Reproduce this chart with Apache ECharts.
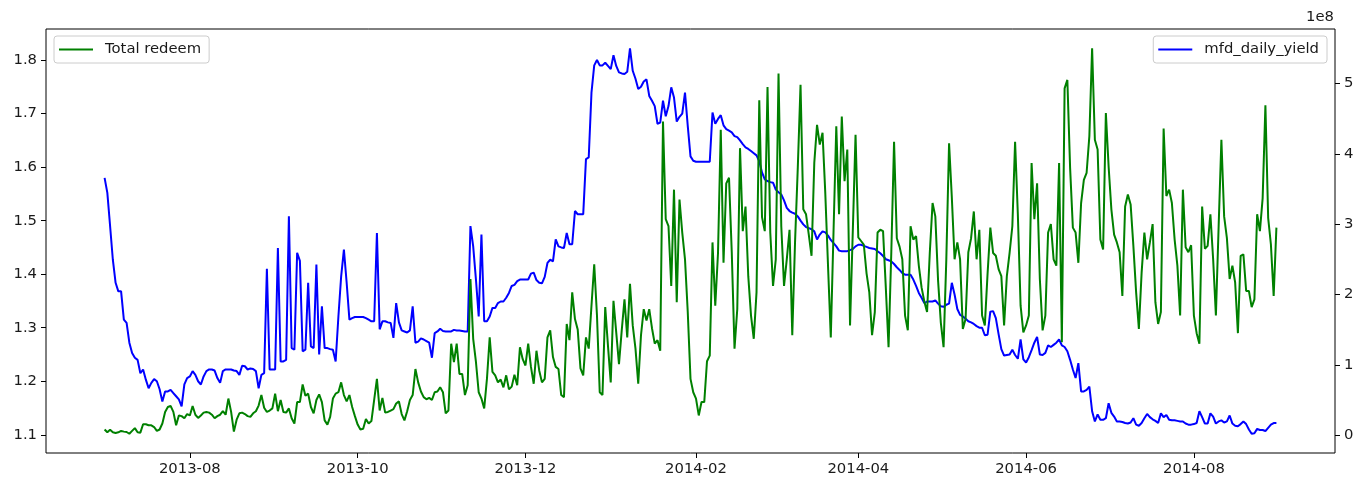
<!DOCTYPE html>
<html>
<head>
<meta charset="utf-8">
<script src="https://cdn.jsdelivr.net/npm/echarts@6/dist/echarts.min.js"></script>
<style>
html,body{margin:0;padding:0;background:#ffffff;}
#chart{width:1365px;height:490px;}
</style>
</head>
<body>
<div id="chart"></div>
<script>
// ---------------- data (daily, starting at startDate) ----------------
const startDate = '2013-07-01';

// mfd_daily_yield (left axis)
const yieldValues = [
1.580,1.552,1.490,1.427,1.384,1.368,1.368,1.315,1.309,1.272,
1.253,1.244,1.240,1.215,1.222,1.203,1.187,1.197,1.204,1.200,
1.185,1.162,1.181,1.181,1.184,1.178,1.172,1.166,1.153,1.194,
1.206,1.209,1.219,1.212,1.200,1.194,1.209,1.219,1.222,1.222,
1.220,1.206,1.197,1.219,1.222,1.222,1.222,1.220,1.219,1.212,
1.229,1.228,1.222,1.224,1.223,1.219,1.187,1.212,1.215,1.410,
1.222,1.222,1.222,1.449,1.237,1.237,1.240,1.508,1.262,1.259,
1.440,1.425,1.256,1.259,1.384,1.265,1.262,1.418,1.250,1.340,
1.262,1.262,1.260,1.259,1.237,1.321,1.396,1.446,1.384,1.315,
1.318,1.320,1.320,1.320,1.320,1.318,1.315,1.312,1.312,1.477,
1.297,1.312,1.312,1.310,1.309,1.281,1.346,1.310,1.295,1.293,
1.291,1.295,1.340,1.272,1.274,1.280,1.278,1.275,1.272,1.244,
1.290,1.293,1.298,1.294,1.293,1.293,1.293,1.296,1.295,1.295,
1.294,1.293,1.293,1.490,1.452,1.390,1.321,1.474,1.312,1.312,
1.321,1.337,1.337,1.346,1.349,1.349,1.356,1.365,1.378,1.380,
1.387,1.390,1.390,1.390,1.390,1.401,1.403,1.389,1.384,1.383,
1.395,1.421,1.427,1.424,1.465,1.452,1.450,1.449,1.477,1.456,
1.456,1.518,1.512,1.512,1.512,1.615,1.618,1.739,1.790,1.800,
1.790,1.790,1.795,1.789,1.783,1.809,1.789,1.777,1.775,1.774,
1.778,1.822,1.780,1.765,1.746,1.750,1.760,1.764,1.733,1.724,
1.714,1.681,1.683,1.724,1.695,1.714,1.749,1.730,1.685,1.694,
1.700,1.739,1.677,1.620,1.612,1.610,1.610,1.610,1.610,1.610,
1.610,1.702,1.681,1.690,1.697,1.678,1.671,1.668,1.665,1.658,
1.656,1.650,1.643,1.637,1.634,1.630,1.626,1.622,1.611,1.590,
1.577,1.574,1.572,1.571,1.558,1.553,1.549,1.538,1.524,1.518,
1.515,1.513,1.508,1.500,1.493,1.488,1.486,1.484,1.480,1.465,
1.474,1.480,1.478,1.472,1.464,1.458,1.452,1.444,1.443,1.443,
1.443,1.445,1.447,1.452,1.455,1.455,1.453,1.451,1.449,1.448,
1.447,1.443,1.439,1.434,1.428,1.426,1.424,1.419,1.413,1.408,
1.402,1.399,1.399,1.399,1.390,1.378,1.365,1.356,1.346,1.349,
1.349,1.349,1.351,1.345,1.340,1.339,1.343,1.345,1.384,1.362,
1.335,1.324,1.321,1.317,1.312,1.310,1.307,1.303,1.300,1.300,
1.286,1.287,1.330,1.331,1.318,1.288,1.260,1.248,1.249,1.250,
1.259,1.249,1.242,1.278,1.241,1.235,1.245,1.258,1.272,1.283,
1.250,1.249,1.253,1.267,1.264,1.268,1.272,1.278,1.267,1.264,
1.256,1.240,1.222,1.206,1.234,1.181,1.181,1.184,1.190,1.144,
1.125,1.138,1.128,1.128,1.131,1.159,1.141,1.134,1.125,1.125,
1.124,1.122,1.121,1.123,1.131,1.119,1.117,1.122,1.131,1.139,
1.133,1.129,1.126,1.122,1.140,1.133,1.137,1.128,1.127,1.127,
1.126,1.125,1.125,1.121,1.119,1.119,1.120,1.122,1.144,1.133,
1.121,1.121,1.140,1.134,1.121,1.125,1.127,1.123,1.125,1.136,
1.121,1.117,1.116,1.120,1.125,1.120,1.110,1.102,1.103,1.111,
1.109,1.109,1.107,1.113,1.119,1.122,1.122
];

// Total redeem (right axis, units of 1e8)
const redeemValues = [
0.08,0.04,0.075,0.04,0.03,0.04,0.06,0.05,0.045,0.02,
0.06,0.10,0.04,0.035,0.155,0.155,0.14,0.14,0.115,0.06,
0.08,0.165,0.33,0.40,0.415,0.33,0.14,0.28,0.27,0.24,
0.30,0.28,0.415,0.29,0.245,0.28,0.32,0.33,0.32,0.29,
0.24,0.27,0.29,0.34,0.29,0.52,0.33,0.05,0.22,0.31,
0.32,0.30,0.27,0.26,0.31,0.34,0.42,0.57,0.39,0.33,
0.35,0.38,0.59,0.34,0.50,0.33,0.32,0.38,0.24,0.165,
0.47,0.47,0.72,0.56,0.59,0.40,0.31,0.50,0.58,0.47,
0.21,0.15,0.26,0.52,0.59,0.61,0.75,0.57,0.48,0.57,
0.40,0.27,0.15,0.08,0.09,0.23,0.165,0.20,0.50,0.80,
0.35,0.53,0.32,0.33,0.35,0.37,0.45,0.48,0.30,0.21,
0.34,0.50,0.57,0.94,0.75,0.62,0.54,0.51,0.53,0.50,
0.61,0.62,0.68,0.61,0.31,0.35,1.30,1.04,1.30,0.87,
0.87,0.57,0.71,2.22,1.37,1.04,0.61,0.52,0.38,0.80,
1.39,0.90,0.85,0.75,0.79,0.68,0.85,0.65,0.69,0.86,
0.71,1.25,1.08,0.99,1.30,0.97,0.73,1.20,0.92,0.75,
0.80,1.39,1.49,1.11,0.97,0.94,0.57,0.54,1.58,1.35,
2.03,1.65,1.50,0.95,0.85,1.39,1.23,1.84,2.43,1.70,
0.61,0.57,1.82,1.27,0.75,1.91,1.46,1.01,1.49,1.93,
1.39,2.15,1.56,1.23,0.73,1.42,1.79,1.63,1.79,1.52,
1.30,1.35,1.20,4.46,3.07,2.97,2.12,3.49,1.89,3.35,
2.88,2.50,1.75,0.80,0.61,0.52,0.28,0.47,0.47,1.05,
1.13,2.74,1.84,2.59,4.34,2.45,3.58,3.66,2.60,1.23,
1.79,4.08,2.90,3.25,2.26,1.70,1.37,2.03,4.76,3.10,
2.90,4.95,2.88,2.12,2.50,5.14,2.97,2.12,2.50,2.92,
1.42,2.74,3.80,4.98,3.21,3.14,2.85,2.55,3.87,4.41,
4.13,4.30,3.44,2.40,1.39,2.90,4.39,3.14,4.53,3.61,
4.06,1.56,2.90,4.27,2.81,2.76,2.71,2.30,2.03,1.42,
1.75,2.88,2.92,2.90,2.10,1.25,2.60,4.17,2.80,2.68,
2.50,1.70,1.49,2.97,2.78,2.83,2.41,2.10,1.90,1.75,
2.60,3.30,3.11,2.20,1.60,1.25,2.50,4.15,3.38,2.50,
2.74,2.50,1.51,1.65,2.60,2.80,3.18,2.50,2.92,1.70,
1.56,2.30,2.95,2.59,2.55,2.36,2.26,1.56,2.26,2.59,
2.97,4.17,3.14,1.84,1.46,1.56,1.70,3.87,3.07,3.58,
2.22,1.49,1.70,2.88,3.00,2.50,2.41,3.87,1.32,4.93,
5.05,3.80,2.95,2.88,2.45,3.30,3.63,3.73,4.25,5.50,
4.20,4.06,2.78,2.64,4.58,3.82,3.21,2.85,2.74,2.60,
1.98,3.25,3.42,3.28,2.69,2.03,1.51,2.31,2.88,2.50,
2.74,3.00,1.89,1.58,1.75,4.36,3.40,3.49,3.30,2.78,
2.41,1.70,3.49,2.67,2.60,2.70,1.70,1.45,1.30,3.25,
2.65,2.69,3.14,2.50,1.70,2.97,4.20,3.11,2.80,2.22,
2.41,2.17,1.45,2.55,2.57,2.05,2.05,1.82,1.93,3.14,
2.90,3.37,4.69,3.09,2.71,1.98,2.95
];

const seriesNames = ['mfd_daily_yield', 'Total redeem'];
const xTickLabels = ['2013-08', '2013-10', '2013-12', '2014-02', '2014-04', '2014-06', '2014-08'];
const leftTickValues = [1.1, 1.2, 1.3, 1.4, 1.5, 1.6, 1.7, 1.8];
const rightTickValues = [0, 1, 2, 3, 4, 5];
const rightAxisExponent = '1e8';

// ---------------- build ----------------
const DAY = 86400000;
const p0 = startDate.split('-').map(Number);
const t0 = Date.UTC(p0[0], p0[1] - 1, p0[2]);
function dayOfMonthLabel(lbl) {
  const p = lbl.split('-').map(Number);
  return Math.round((Date.UTC(p[0], p[1] - 1, 1) - t0) / DAY);
}
function padRange(arr) {
  let mn = Infinity, mx = -Infinity;
  arr.forEach(v => { if (v < mn) mn = v; if (v > mx) mx = v; });
  const r = mx - mn;
  return [mn - 0.05 * r, mx + 0.05 * r];
}
const xTickDays = xTickLabels.map(dayOfMonthLabel);
const xr = padRange([0, yieldValues.length - 1]);
const ly = padRange(yieldValues);
const ry = padRange(redeemValues);
const yieldData = yieldValues.map((v, i) => [i, v]);
const redeemData = redeemValues.map((v, i) => [i, v]);

const FONT = 'DejaVu Sans';
const TXT = '#1a1a1a';
const FS = 14.8;
const labelStyle = { fontFamily: FONT, fontSize: FS, color: TXT };
const tickStyle = { color: '#000', width: 1 };

const chart = echarts.init(document.getElementById('chart'), null, { renderer: 'canvas' });
chart.setOption({
  animation: false,
  backgroundColor: '#ffffff',
  grid: {
    left: 46, right: 30, top: 29, bottom: 37,
    show: true, borderColor: '#000000', borderWidth: 1, backgroundColor: 'rgba(0,0,0,0)'
  },
  xAxis: {
    type: 'value', min: xr[0], max: xr[1], position: 'bottom',
    axisLine: { show: false, onZero: false },
    splitLine: { show: false },
    axisTick: { show: true, length: 5, lineStyle: tickStyle, customValues: xTickDays },
    axisLabel: Object.assign({
      customValues: xTickDays, margin: 9,
      formatter: function (v) {
        let best = 0, bd = Infinity;
        xTickDays.forEach((d, i) => { const dd = Math.abs(d - v); if (dd < bd) { bd = dd; best = i; } });
        return xTickLabels[best];
      }
    }, labelStyle)
  },
  yAxis: [
    {
      type: 'value', position: 'left', min: ly[0], max: ly[1],
      axisLine: { show: false, onZero: false }, splitLine: { show: false },
      axisTick: { show: true, length: 5, lineStyle: tickStyle, customValues: leftTickValues },
      axisLabel: Object.assign({ customValues: leftTickValues, margin: 9, formatter: v => v.toFixed(1) }, labelStyle)
    },
    {
      type: 'value', position: 'right', min: ry[0], max: ry[1],
      axisLine: { show: false, onZero: false }, splitLine: { show: false },
      axisTick: { show: true, length: 5, lineStyle: tickStyle, customValues: rightTickValues },
      axisLabel: Object.assign({ customValues: rightTickValues, margin: 9, formatter: v => String(Math.round(v)) }, labelStyle)
    }
  ],
  legend: [
    {
      data: [seriesNames[1]], left: 54, top: 36, selectedMode: false,
      icon: 'rect', itemWidth: 34, itemHeight: 2,
      padding: [6, 8, 6, 5], borderColor: '#cccccc', borderWidth: 1, borderRadius: 3,
      backgroundColor: 'rgba(255,255,255,0.8)',
      textStyle: { fontFamily: FONT, fontSize: FS, color: TXT, padding: [0, 0, 0, 7] }
    },
    {
      data: [seriesNames[0]], right: 38, top: 36, selectedMode: false,
      icon: 'rect', itemWidth: 34, itemHeight: 2,
      padding: [6, 8, 6, 5], borderColor: '#cccccc', borderWidth: 1, borderRadius: 3,
      backgroundColor: 'rgba(255,255,255,0.8)',
      textStyle: { fontFamily: FONT, fontSize: FS, color: TXT, padding: [0, 0, 0, 7] }
    }
  ],
  graphic: [
    { type: 'text', right: 31, top: 10, style: { text: rightAxisExponent, font: FS + 'px "DejaVu Sans"', fill: TXT } }
  ],
  series: [
    {
      name: seriesNames[0], type: 'line', yAxisIndex: 0, data: yieldData,
      symbol: 'none', showSymbol: false, z: 2,
      lineStyle: { color: '#0000ff', width: 2 }, itemStyle: { color: '#0000ff' }
    },
    {
      name: seriesNames[1], type: 'line', yAxisIndex: 1, data: redeemData,
      symbol: 'none', showSymbol: false, z: 3,
      lineStyle: { color: '#008000', width: 2 }, itemStyle: { color: '#008000' }
    }
  ]
});
</script>
</body>
</html>
